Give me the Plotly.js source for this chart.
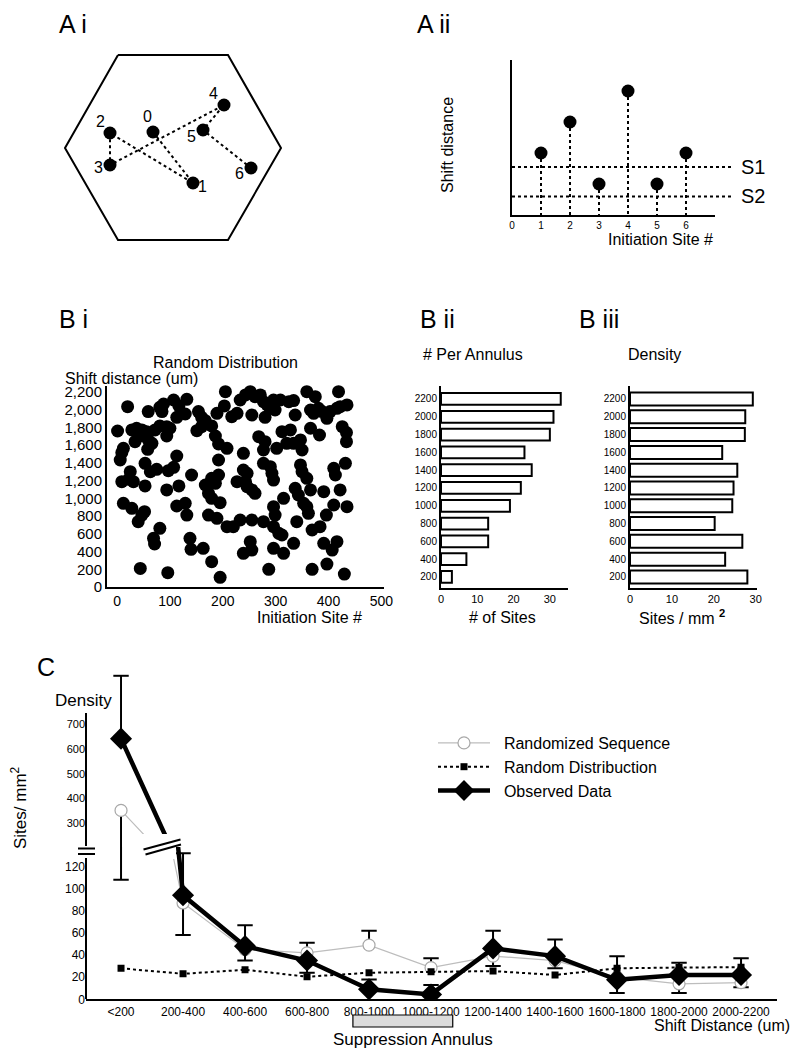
<!DOCTYPE html>
<html><head><meta charset="utf-8">
<script src="https://cdn.plot.ly/plotly-3.0.1.min.js"></script>
<style>html,body{margin:0;padding:0;background:#fff}#chart{width:801px;height:1050px}</style>
</head><body><div id="chart"></div>
<script>
// ---------------- DATA ----------------
// A i : schematic hexagon and initiation sites
const hexX = [118,228,281,228,118,65,118];
const hexY = [55,55,148,240,240,148,55];
const siteLabels = ['0','1','2','3','4','5','6'];
const siteX = [153,193,110,110,224,203,251];
const siteY = [132,183,133,165,105,130,168];

// A ii : shift distance per initiation site
const initSites = [1,2,3,4,5,6];
const shiftDist = [4,6,2,8,2,4];
const s1Level = 3.1;
const s2Level = 1.2;
const aiiTicks = [0,1,2,3,4,5,6];

// B i : random distribution (initiation site #, shift distance um)
const rdSite = [20,59,81,88,85,107,117,113,132,129,154,160,167,189,205,203,217,227,
 1,28,37,47,56,40,34,59,58,66,72,81,94,100,94,151,160,179,186,192,208,12,9,6,
 113,53,63,75,97,107,192,141,25,22,9,31,53,94,117,167,173,179,195,179,192,186,227,
 12,28,40,47,52,113,129,132,173,189,208,220,81,69,71,138,140,163,179,
 44,96,195,
 233,243,252,261,271,277,284,290,255,280,296,299,309,325,334,337,359,375,366,372,381,388,397,403,416,422,435,419,
 268,280,277,302,312,328,321,334,347,350,366,383,426,434,434,239,
 277,290,293,296,347,350,359,410,413,432,239,246,243,246,255,261,337,343,366,391,422,
 315,296,299,353,359,362,410,435,396,233,255,277,296,306,312,340,369,384,
 252,255,239,296,315,334,391,416,407,287,369,397,430];
const rdShift = [2035,1979,2027,2065,1979,2110,2043,1915,2118,1952,1979,1915,1877,1960,2204,2043,1922,1960,
 1760,1772,1791,1772,1753,1696,1640,1659,1554,1621,1772,1817,1809,1791,1704,1764,1809,1817,1704,1614,1565,1565,1516,1433,
 1478,1395,1301,1328,1313,1350,1433,1264,1301,1215,1189,1189,1140,1095,1140,1151,1057,1001,952,1226,1264,1170,1189,
 944,888,737,812,850,914,944,812,812,775,681,681,662,549,485,549,425,436,286,
 210,162,109,
 2110,2167,2204,2148,2167,2091,2054,2016,1941,1915,2110,1997,2110,2091,2103,1941,2204,2148,1997,1960,2016,1979,1903,1979,2016,2035,2054,2204,
 1696,1640,1546,1565,1753,1772,1621,1621,1659,1546,1791,1715,1809,1742,1640,1508,
 1395,1358,1283,1207,1377,1301,1226,1339,1264,1395,1320,1283,1189,1132,1095,1057,1113,1038,1095,1076,1095,
 1001,906,812,944,906,831,925,906,812,756,756,737,681,606,587,737,643,681,
 511,417,380,436,380,493,493,511,417,199,199,259,146];
const biXTicks = [0,100,200,300,400,500];
const biYTicks = [0,200,400,600,800,1000,1200,1400,1600,1800,2000,2200];

// B ii / B iii : per annulus
const annuli = ['200','400','600','800','1000','1200','1400','1600','1800','2000','2200'];
const perAnnulus = [3,7,13,13,19,22,25,23,30,31,33];
const densityAnnulus = [28.0,22.7,26.8,20.2,24.4,24.7,25.6,22.0,27.4,27.5,29.3];

// C : density vs shift distance
const shiftBins = ['<200','200-400','400-600','600-800','800-1000','1000-1200','1200-1400','1400-1600','1600-1800','1800-2000','2000-2200'];
const randSeq   = [352,87,45,42,49,28.6,39,35,20,14,15];
const randSeqHi = [null,null,null,null,62,37,null,null,null,null,null];
const randSeqLo = [108,null,null,null,null,null,null,null,null,null,null];
const randDist  = [28,23,26.7,20.4,24,25,25.5,22,28,28.7,29];
const observed  = [642,94,48,35,9,4.4,46,39,17.6,22,22];
const obsHi     = [896,132,67,51,18,13,62,54,39,33,37];
const obsLo     = [null,58,35,24,null,null,30,28,5.6,5.6,10.8];
const suppressionBins = ['800-1000','1000-1200'];
const cLowTicks = [0,20,40,60,80,100,120];
const cHighTicks = [300,400,500,600,700];

// ---------------- HELPERS ----------------
const W = 801, H = 1050;
const px = v => v / W;
const py = v => 1 - v / H;
const FONT = 'Liberation Sans, Arial, Helvetica, sans-serif';
const binIdx = shiftBins.map((_, i) => i);
// label offsets (px) of the site numbers in A i
const siteLabelShift = [[-6,15],[9,-4],[-10,11],[-12,-3],[-11,11],[-12,-7],[-12,-6]];

function errSegments(vals, ends) {
  const sx = [], sy = [], cx = [], cy = [];
  vals.forEach((v, i) => {
    if (ends[i] === null || ends[i] === undefined) return;
    sx.push(i, i, null); sy.push(v, ends[i], null);
    cx.push(i); cy.push(ends[i]);
  });
  return {sx, sy, cx, cy};
}
function errTraces(vals, hi, lo, yaxis) {
  const a = errSegments(vals, hi), b = errSegments(vals, lo);
  return [
    {type:'scatter', mode:'lines', x:a.sx.concat(b.sx), y:a.sy.concat(b.sy), xaxis:'x6', yaxis:yaxis,
     line:{color:'#000', width:2}, showlegend:false, hoverinfo:'skip'},
    {type:'scatter', mode:'markers', x:a.cx.concat(b.cx), y:a.cy.concat(b.cy), xaxis:'x6', yaxis:yaxis,
     marker:{symbol:'line-ew', size:11, line:{color:'#000', width:2}}, showlegend:false, hoverinfo:'skip'}
  ];
}

// ---------------- TRACES ----------------
const traces = [];
// A i
traces.push({type:'scatter', mode:'lines', x:hexX, y:hexY, xaxis:'x', yaxis:'y',
  line:{color:'#000', width:2}, showlegend:false, hoverinfo:'skip'});
traces.push({type:'scatter', mode:'lines', x:siteX, y:siteY, xaxis:'x', yaxis:'y',
  line:{color:'#000', width:2, dash:'dot'}, showlegend:false, hoverinfo:'skip'});
traces.push({type:'scatter', mode:'markers', x:siteX, y:siteY, xaxis:'x', yaxis:'y',
  marker:{color:'#000', size:13}, showlegend:false, hoverinfo:'skip'});

// A ii
const stemX = [], stemY = [];
initSites.forEach((s, i) => { stemX.push(s, s, null); stemY.push(shiftDist[i], 0, null); });
traces.push({type:'scatter', mode:'lines', x:stemX, y:stemY, xaxis:'x2', yaxis:'y2',
  line:{color:'#000', width:2, dash:'dot'}, showlegend:false, hoverinfo:'skip'});
traces.push({type:'scatter', mode:'markers', x:initSites, y:shiftDist, xaxis:'x2', yaxis:'y2',
  marker:{color:'#000', size:13}, showlegend:false, hoverinfo:'skip'});

// B i
traces.push({type:'scatter', mode:'markers', x:rdSite, y:rdShift, xaxis:'x3', yaxis:'y3',
  marker:{color:'#000', size:13}, showlegend:false, hoverinfo:'skip', cliponaxis:false});

// B ii, B iii
traces.push({type:'bar', orientation:'h', x:perAnnulus, y:annuli, xaxis:'x4', yaxis:'y4', width:0.66,
  marker:{color:'#fff', line:{color:'#000', width:2}}, showlegend:false, hoverinfo:'skip'});
traces.push({type:'bar', orientation:'h', x:densityAnnulus, y:annuli, xaxis:'x5', yaxis:'y5', width:0.73,
  marker:{color:'#fff', line:{color:'#000', width:2}}, showlegend:false, hoverinfo:'skip'});

// C : error bars (both halves of the broken axis)
['y7','y6'].forEach(ya => {
  errTraces(randSeq, randSeqHi, randSeqLo, ya).forEach(t => traces.push(t));
  errTraces(observed, obsHi, obsLo, ya).forEach(t => traces.push(t));
});
// C : series
const randStyle = {line:{color:'#bdbdbd', width:1.2},
  marker:{symbol:'circle', size:12, color:'#fff', line:{color:'#a8a8a8', width:1.2}}};
const distStyle = {line:{color:'#000', width:2, dash:'dot'},
  marker:{symbol:'square', size:7, color:'#000'}};
const obsStyle = {line:{color:'#000', width:4.5},
  marker:{symbol:'diamond', size:17, color:'#000'}};
const pad = '\u00a0\u00a0';
traces.push(Object.assign({type:'scatter', mode:'lines+markers', x:binIdx, y:randSeq, xaxis:'x6', yaxis:'y7',
  showlegend:false, hoverinfo:'skip'}, randStyle));
traces.push(Object.assign({type:'scatter', mode:'lines+markers', x:binIdx, y:randSeq, xaxis:'x6', yaxis:'y6',
  name:pad + 'Randomized Sequence', hoverinfo:'skip'}, randStyle));
traces.push(Object.assign({type:'scatter', mode:'lines+markers', x:binIdx, y:randDist, xaxis:'x6', yaxis:'y6',
  name:pad + 'Random Distribuction', hoverinfo:'skip'}, distStyle));
traces.push(Object.assign({type:'scatter', mode:'lines+markers', x:binIdx, y:observed, xaxis:'x6', yaxis:'y7',
  showlegend:false, hoverinfo:'skip'}, obsStyle));
traces.push(Object.assign({type:'scatter', mode:'lines+markers', x:binIdx, y:observed, xaxis:'x6', yaxis:'y6',
  name:pad + 'Observed Data', hoverinfo:'skip'}, obsStyle));

// ---------------- LAYOUT ----------------
const axBase = {showgrid:false, zeroline:false, showline:true, linecolor:'#000', linewidth:2, color:'#000',
  tickfont:{family:FONT, size:12, color:'#000'}, ticks:'', fixedrange:true};
const A = o => Object.assign({}, axBase, o);

const supIdx = suppressionBins.map(b => shiftBins.indexOf(b));

const shapes = [
  // A ii threshold lines
  {type:'line', xref:'paper', yref:'y2', x0:px(512), x1:px(732), y0:s1Level, y1:s1Level, line:{color:'#000', width:2, dash:'dot'}},
  {type:'line', xref:'paper', yref:'y2', x0:px(512), x1:px(732), y0:s2Level, y1:s2Level, line:{color:'#000', width:2, dash:'dot'}},
  // C broken y axis lines
  {type:'line', xref:'paper', yref:'y7', x0:px(86), x1:px(86), y0:208.3, y1:745.6, line:{color:'#000', width:2}},
  {type:'line', xref:'paper', yref:'y6', x0:px(86), x1:px(86), y0:0, y1:127.6, line:{color:'#000', width:2}},
  // break gap for data lines
  {type:'rect', xref:'paper', yref:'paper', x0:px(131), x1:px(176), y0:py(859), y1:py(834), fillcolor:'#fff', line:{width:0}, layer:'above'},
  // axis break marks "="
  {type:'line', xref:'paper', yref:'paper', x0:px(78), x1:px(95), y0:py(848.5), y1:py(848.5), line:{color:'#000', width:2}, layer:'above'},
  {type:'line', xref:'paper', yref:'paper', x0:px(78), x1:px(95), y0:py(854), y1:py(854), line:{color:'#000', width:2}, layer:'above'},
  // data break marks "//"
  {type:'line', xref:'paper', yref:'paper', x0:px(143.5), x1:px(180.5), y0:py(849.5), y1:py(839.5), line:{color:'#000', width:2}, layer:'above'},
  {type:'line', xref:'paper', yref:'paper', x0:px(145.5), x1:px(181), y0:py(854.5), y1:py(844.5), line:{color:'#000', width:2}, layer:'above'},
  // suppression annulus box
  {type:'rect', xref:'x6', yref:'paper', x0:supIdx[0]-0.26, x1:supIdx[1]+0.35, y0:py(1027), y1:py(1015),
   fillcolor:'#dcdcdc', line:{color:'#000', width:1.2}}
];

function ann(text, x, y, size, opts) {
  return Object.assign({text:text, xref:'paper', yref:'paper', x:px(x), y:py(y), showarrow:false,
    xanchor:'center', yanchor:'middle', font:{family:FONT, size:size, color:'#000'}}, opts || {});
}
const annotations = [
  ann('A i', 57, 24, 25, {xanchor:'left'}),
  ann('A ii', 415, 24, 25, {xanchor:'left'}),
  ann('Shift distance', 448, 145, 16, {textangle:-90}),
  ann('Initiation Site #', 660, 240, 16),
  ann('S1', 739, 167, 20, {xanchor:'left'}),
  ann('S2', 739, 196, 20, {xanchor:'left'}),
  ann('B i', 57, 319, 25, {xanchor:'left'}),
  ann('Random Distribution', 225, 362, 16),
  ann('Shift distance (um)', 63, 378, 16, {xanchor:'left'}),
  ann('Initiation Site #', 309, 617, 16),
  ann('B ii', 418, 319, 25, {xanchor:'left'}),
  ann('B iii', 577, 319, 25, {xanchor:'left'}),
  ann('# Per Annulus', 421, 354, 16, {xanchor:'left'}),
  ann('Density', 626, 354, 16, {xanchor:'left'}),
  ann('# of Sites', 502, 617, 16),
  ann('Sites / mm <b><sup>2</sup></b>', 682, 617, 16),
  ann('C', 35, 667, 25, {xanchor:'left'}),
  ann('Density', 53, 700, 17, {xanchor:'left'}),
  ann('Sites/ mm<sup>2</sup>', 19, 808, 17, {textangle:-90}),
  ann('Shift Distance (um)', 792, 1025, 16, {xanchor:'right'}),
  ann('Suppression Annulus', 413, 1039, 17)
];
// site number labels in A i (placed at the site positions)
siteLabels.forEach((lab, i) => {
  annotations.push({text:lab, xref:'x', yref:'y', x:siteX[i], y:siteY[i], showarrow:false,
    xshift:siteLabelShift[i][0], yshift:siteLabelShift[i][1], xanchor:'center', yanchor:'middle',
    font:{family:FONT, size:16, color:'#000'}});
});

const layout = {
  width:W, height:H, margin:{l:0, r:0, t:0, b:0}, paper_bgcolor:'#fff', plot_bgcolor:'rgba(0,0,0,0)',
  font:{family:FONT, color:'#000'}, showlegend:true, hovermode:false, dragmode:false,
  legend:{x:px(433), y:py(726), xanchor:'left', yanchor:'top', bgcolor:'rgba(0,0,0,0)',
    font:{family:FONT, size:16, color:'#000'}, itemwidth:52, tracegroupgap:0},
  // A i
  xaxis: A({domain:[px(55), px(290)], range:[55,290], visible:false, anchor:'y'}),
  yaxis: A({domain:[py(250), py(45)], range:[250,45], visible:false, anchor:'x'}),
  // A ii
  xaxis2: A({domain:[px(512), px(715)], range:[0,7], anchor:'y2', tickvals:aiiTicks, tickfont:{family:FONT, size:10, color:'#000'}}),
  yaxis2: A({domain:[py(215), py(60)], range:[0,10], anchor:'x2', showticklabels:false}),
  // B i
  xaxis3: A({domain:[px(107), px(384)], range:[-19,505], anchor:'y3', tickvals:biXTicks,
    tickfont:{family:FONT, size:14, color:'#000'}}),
  yaxis3: A({domain:[py(587), py(386)], range:[0,2268], anchor:'x3', tickvals:biYTicks, tickformat:',',
    tickfont:{family:FONT, size:15, color:'#000'}}),
  // B ii
  xaxis4: A({domain:[px(441), px(568)], range:[0,35], anchor:'y4', tickvals:[0,10,20,30], tickfont:{family:FONT, size:11, color:'#000'}}),
  yaxis4: A({domain:[py(588), py(386)], type:'category', categoryarray:annuli, categoryorder:'array', range:[-0.62,10.73], anchor:'x4',
    tickfont:{family:FONT, size:10, color:'#000'}}),
  // B iii
  xaxis5: A({domain:[px(630), px(757)], range:[0,30.3], anchor:'y5', tickvals:[0,10,20,30], tickfont:{family:FONT, size:11, color:'#000'}}),
  yaxis5: A({domain:[py(588), py(386)], type:'category', categoryarray:annuli, categoryorder:'array', range:[-0.62,10.73], anchor:'x5',
    tickfont:{family:FONT, size:10, color:'#000'}}),
  // C
  xaxis6: A({domain:[px(86), px(777)], range:[-0.565,10.58], anchor:'y6', tickvals:binIdx, ticktext:shiftBins,
    tickfont:{family:FONT, size:12, color:'#000'}}),
  yaxis6: A({domain:[py(999.3), py(847)], range:[0,137.6], anchor:'x6', showline:false, tickvals:cLowTicks,
    tickfont:{family:FONT, size:12, color:'#000'}}),
  yaxis7: A({domain:[py(847), py(670)], range:[204.2,919.4], anchor:'x6', showline:false, tickvals:cHighTicks,
    tickfont:{family:FONT, size:11, color:'#000'}}),
  shapes: shapes,
  annotations: annotations
};

Plotly.newPlot('chart', traces, layout, {staticPlot:true, displayModeBar:false});
</script>
</body></html>
